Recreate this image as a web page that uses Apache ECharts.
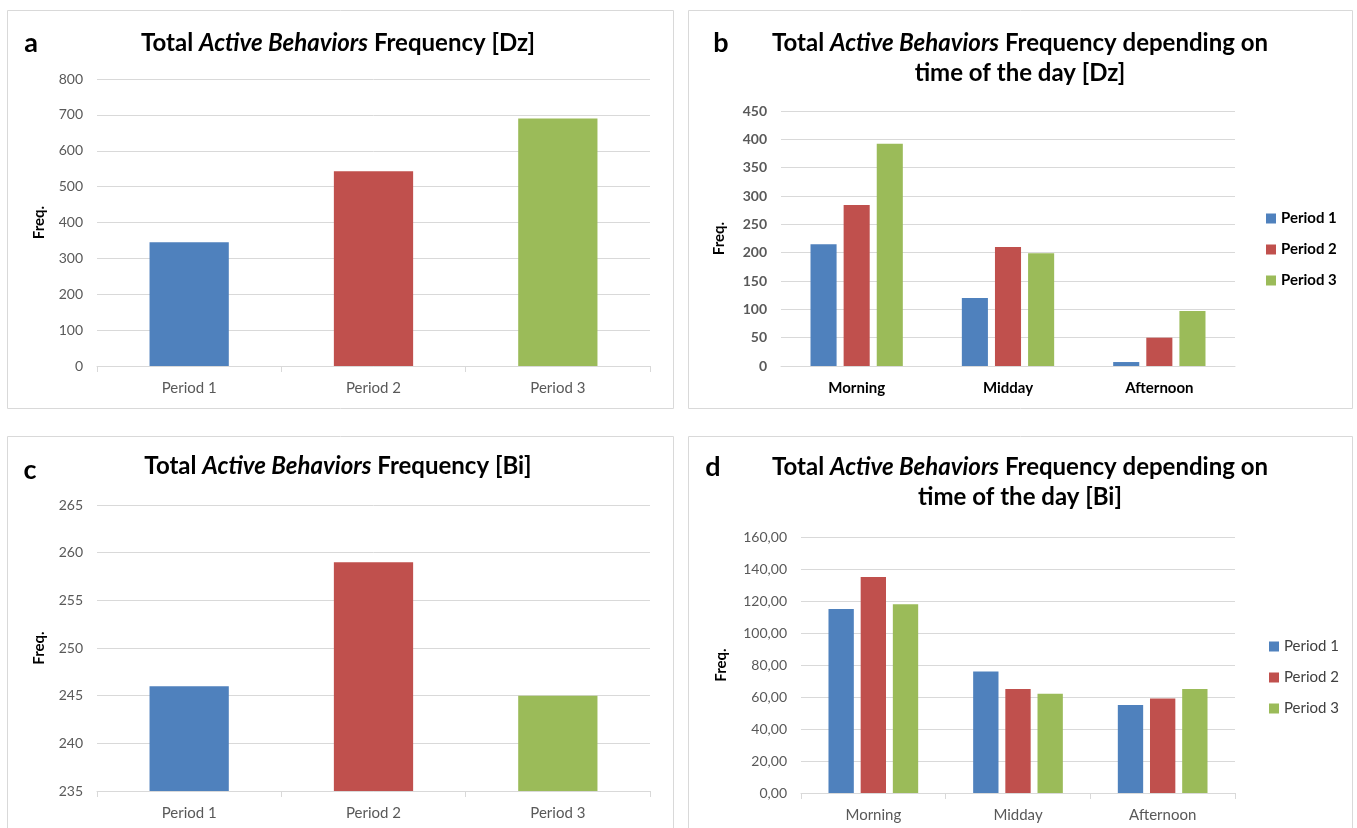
<!DOCTYPE html>
<html><head><meta charset="utf-8">
<script src="https://cdn.jsdelivr.net/npm/echarts@6/dist/echarts.min.js"></script>
<style>html,body{margin:0;padding:0;background:#fff}#c{width:1357px;height:828px}</style>
</head><body><div id="c"></div>
<script>
const periods = ['Period 1', 'Period 2', 'Period 3'];
const times = ['Morning', 'Midday', 'Afternoon'];
const dzTotal = [345, 543, 690];
const dzP1 = [215, 120, 7];
const dzP2 = [284, 210, 50];
const dzP3 = [392, 199, 97];
const biTotal = [246, 259, 245];
const biP1 = [115, 76, 55];
const biP2 = [135, 65, 59];
const biP3 = [118, 62, 65];
const colors = ['#4f81bd', '#c0504d', '#9bbb59'];

const FONT = 'Lato';
const chart = echarts.init(document.getElementById('c'));
const grids = [
  {left: 97, top: 79, width: 553, height: 287},
  {left: 781, top: 111, width: 454, height: 255},
  {left: 97, top: 505, width: 553, height: 286},
  {left: 801, top: 537, width: 434, height: 256}
];
const lblColor = '#595959';
function xAx(i, bold, ticks) {
  return {type: 'category', gridIndex: i, data: i % 2 ? times : periods,
    axisLine: {lineStyle: {color: '#d9d9d9', width: 1}},
    axisTick: {show: ticks, length: 6, lineStyle: {color: '#d9d9d9'}},
    axisLabel: {color: bold ? '#000' : lblColor, fontWeight: bold ? 'bold' : 'normal', fontSize: 15, fontFamily: FONT, margin: 15}};
}
function yAx(i, min, max, interval, gap, bold, fmt) {
  return {type: 'value', gridIndex: i, min, max, interval,
    name: 'Freq.', nameLocation: 'middle', nameGap: gap, nameRotate: 90,
    nameTextStyle: {color: '#000', fontWeight: 'bold', fontSize: 15, fontFamily: FONT},
    axisLine: {show: false}, axisTick: {show: false},
    splitLine: {lineStyle: {color: '#d9d9d9', width: 1}},
    axisLabel: {color: lblColor, fontWeight: bold ? 'bold' : 'normal', fontSize: 14, fontFamily: FONT, margin: 14, formatter: fmt}};
}
const commaFmt = v => v.toFixed(2).replace('.', ',');
function titleText(x, y, line1, line2) {
  const rich = {
    n: {fontWeight: 'bold', fontSize: 24, fontFamily: FONT, color: '#000', lineHeight: 30},
    i: {fontWeight: 'bold', fontStyle: 'italic', fontSize: 24, fontFamily: FONT, color: '#000', lineHeight: 30}
  };
  let t = '{n|Total }{i|Active Behaviors}{n| ' + line1 + '}';
  if (line2) t += '\n{n|' + line2 + '}';
  return {type: 'text', x, y, style: {text: t, rich, align: 'center', verticalAlign: 'middle'}};
}
function letter(x, y, s) {
  return {type: 'text', x, y, style: {text: s, fontWeight: 'bold', fontSize: 27, fontFamily: FONT, fill: '#000', align: 'center', verticalAlign: 'middle'}};
}
function box(x, y, w, h) {
  return {type: 'rect', shape: {x, y, width: w, height: h}, style: {fill: 'none', stroke: '#d9d9d9', lineWidth: 1}};
}
function single(i, data) {
  return {type: 'bar', xAxisIndex: i, yAxisIndex: i, barWidth: '43%',
    data: data.map((v, k) => ({value: v, itemStyle: {color: colors[k]}}))};
}
function multi(i, arr, gap) {
  return arr.map((d, k) => ({type: 'bar', name: periods[k], xAxisIndex: i, yAxisIndex: i,
    barCategoryGap: gap, barGap: '27%', itemStyle: {color: colors[k]}, data: d}));
}
chart.setOption({
  animation: false,
  grid: grids,
  xAxis: [xAx(0, false, true), xAx(1, true, false), xAx(2, false, true), xAx(3, false, true)],
  yAxis: [yAx(0, 0, 800, 100, 50, false), yAx(1, 0, 450, 50, 54, true), yAx(2, 235, 265, 5, 50, false), yAx(3, 0, 160, 20, 72, false, commaFmt)],
  legend: [
    {orient: 'vertical', left: 1261, top: 206, itemWidth: 10, itemHeight: 10, itemGap: 16, icon: 'rect',
      textStyle: {fontWeight: 'bold', fontSize: 15, fontFamily: FONT, color: '#000'},
      data: periods.map(p => ({name: p}))},
    {orient: 'vertical', left: 1264, top: 634, itemWidth: 10, itemHeight: 10, itemGap: 16, icon: 'rect',
      textStyle: {fontSize: 15, fontFamily: FONT, color: '#404040'},
      data: periods.map(p => ({name: p}))}
  ],
  series: [
    single(0, dzTotal),
    ...multi(1, [dzP1, dzP2, dzP3], '39%'),
    single(2, biTotal),
    ...multi(3, [biP1, biP2, biP3], '38%')
  ],
  graphic: [
    box(7.5, 10.5, 666, 398), box(688.5, 10.5, 664, 398),
    box(7.5, 436.5, 666, 400), box(688.5, 436.5, 664, 400),
    letter(31, 43, 'a'), letter(721, 43, 'b'), letter(30, 470, 'c'), letter(713, 467, 'd'),
    titleText(338, 43, 'Frequency [Dz]'),
    titleText(1020, 58, 'Frequency depending on', 'time of the day [Dz]'),
    titleText(338, 466, 'Frequency [Bi]'),
    titleText(1020, 482, 'Frequency depending on', 'time of the day [Bi]')
  ]
});
</script></body></html>
